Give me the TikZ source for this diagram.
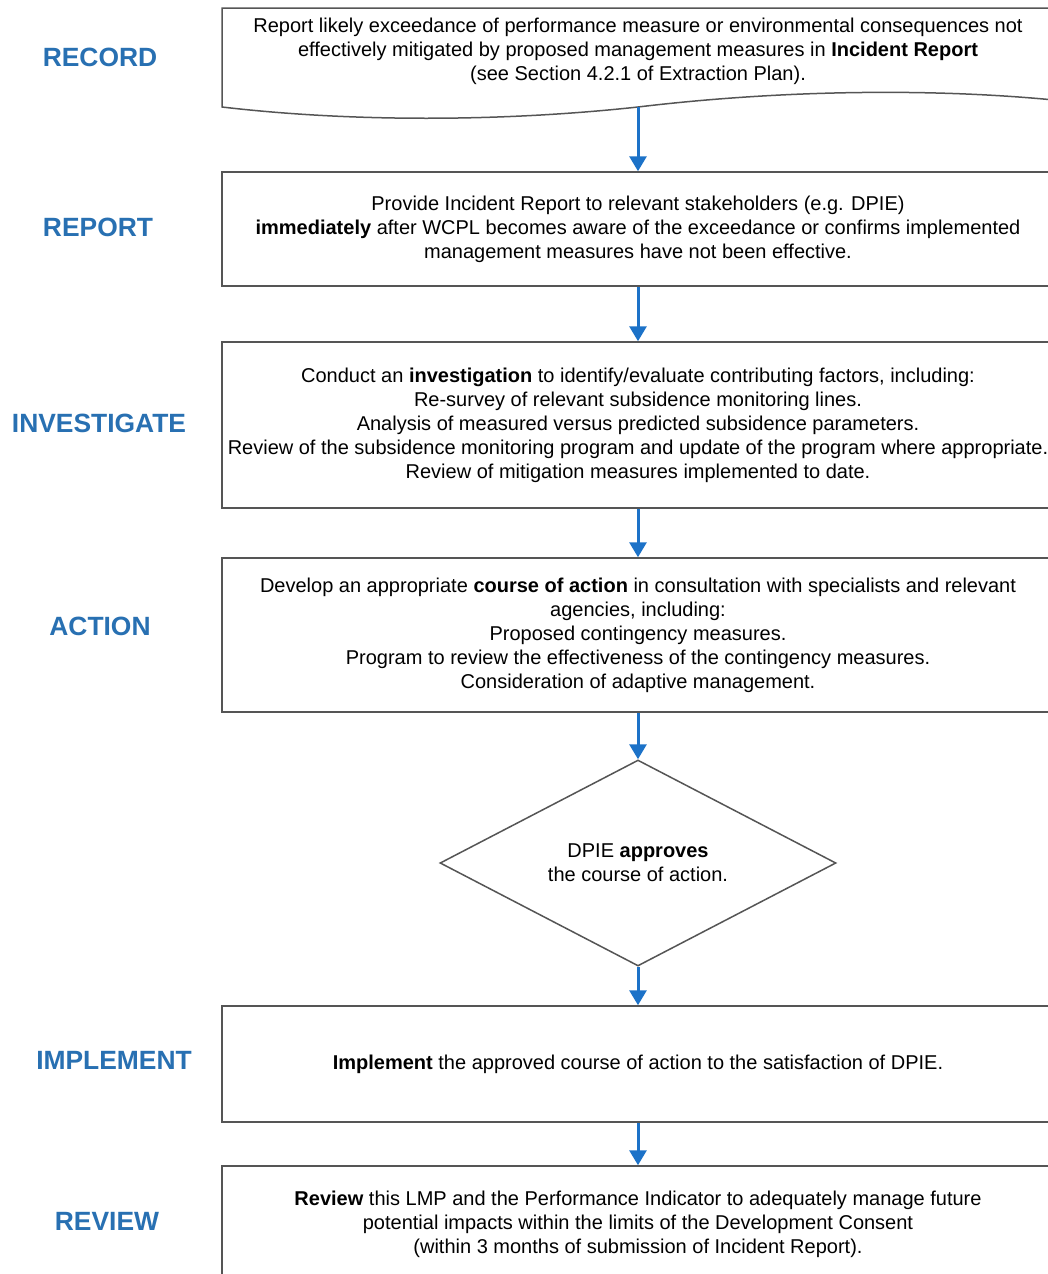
\documentclass[tikz,border=0pt]{standalone}
\usepackage{fontspec}
\setmainfont{Liberation Sans}
\usetikzlibrary{arrows.meta,shapes.geometric}
\definecolor{stageblue}{RGB}{40,112,178}
\definecolor{arrowblue}{RGB}{28,114,200}
\definecolor{boxgray}{RGB}{85,85,85}
\newcommand{\stage}[4][100]{
  % stage name on the left
  \node[stagelabel] (#2) at (#1,#3) {#4};
}

\begin{document}
\begin{tikzpicture}[x=0.5pt,y=-0.5pt,
  stagelabel/.style={text=stageblue,font=\fontsize{13.2}{16}\selectfont\bfseries},
  stepbox/.style={draw=boxgray,line width=0.75pt,minimum width=416pt,align=center,inner sep=0pt,font=\fontsize{10}{12}\selectfont},
  flow/.style={arrowblue,line width=1.5pt,-{Triangle[width=8.5pt,length=7.5pt]}}]
	\useasboundingbox (0,0) rectangle (1048,1274);
	\clip (0,0) rectangle (1048,1274);
	\fill[white] (0,0) rectangle (1048,1274);
	
	\stage{lrecord}{57}{RECORD}
	\stage[98]{lreport}{227}{REPORT}
	\stage[99]{linvest}{423}{INVESTIGATE}
	\stage{laction}{626}{ACTION}
	\stage[114]{limplement}{1060}{IMPLEMENT}
	\stage[107]{lreview}{1221}{REVIEW}
	
	% document shape
	\draw[boxgray,line width=0.75pt] (222,107) -- (222,8) -- (1054,8) -- (1054,100)
	  .. controls (930,88) and (780,90) .. (638,107)
	  .. controls (500,122) and (350,122) .. (222,107) -- cycle;
	\coordinate (recbot) at (638,107);
	\node[stepbox,draw=none] (record) at (638,51) {Report likely exceedance of performance measure or environmental consequences not\\
	  effectively mitigated by proposed management measures in \textbf{Incident Report}\\
	  (see Section 4.2.1 of Extraction Plan).};
	
	\node[stepbox,minimum height=57pt] (report) at (638,229) {Provide Incident Report to relevant stakeholders (e.g. DPIE)\\
	  \textbf{immediately} after WCPL becomes aware of the exceedance or confirms implemented\\
	  management measures have not been effective.};
	
	\node[stepbox,minimum height=83pt] (invest) at (638,425) {Conduct an \textbf{investigation} to identify/evaluate contributing factors, including:\\
	  Re-survey of relevant subsidence monitoring lines.\\
	  Analysis of measured versus predicted subsidence parameters.\\
	  Review of the subsidence monitoring program and update of the program where appropriate.\\
	  Review of mitigation measures implemented to date.};
	
	\node[stepbox,minimum height=77pt] (action) at (638,635) {Develop an appropriate \textbf{course of action} in consultation with specialists and relevant\\
	  agencies, including:\\
	  Proposed contingency measures.\\
	  Program to review the effectiveness of the contingency measures.\\
	  Consideration of adaptive management.};
	
	\node[diamond,aspect=1.9,draw=boxgray,line width=0.75pt,minimum width=198pt,minimum height=103pt,inner sep=0pt,align=center,font=\fontsize{10}{12}\selectfont] (approve) at (638,863) {DPIE \textbf{approves}\\ the course of action.};
	
	\node[stepbox,minimum height=58pt] (implement) at (638,1064) {\textbf{Implement} the approved course of action to the satisfaction of DPIE.};
	
	\node[stepbox,minimum height=58pt] (review) at (638,1224) {\textbf{Review} this LMP and the Performance Indicator to adequately manage future\\
	  potential impacts within the limits of the Development Consent\\
	  (within 3 months of submission of Incident Report).};
	
	\draw[flow] (recbot) -- (report.north);
	\draw[flow] (report) -- (invest);
	\draw[flow] (invest) -- (action);
	\draw[flow] (action) -- (approve);
	\draw[flow] (approve) -- (implement);
	\draw[flow] (implement) -- (review);
\end{tikzpicture}
\end{document}
